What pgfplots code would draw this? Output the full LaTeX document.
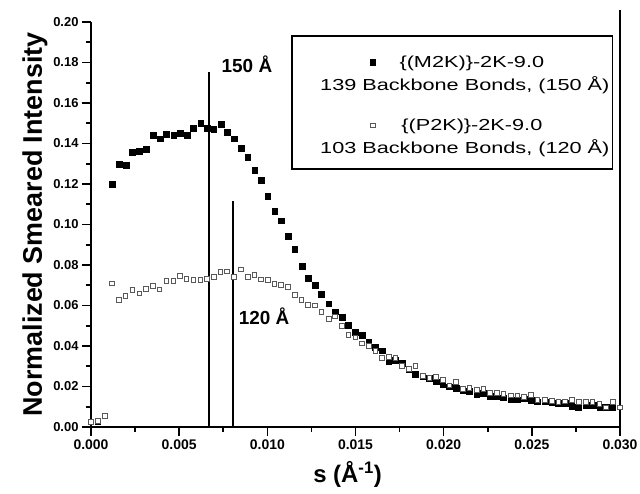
\documentclass[border=0pt]{standalone}
\usepackage{fontspec}
\setmainfont{Liberation Sans}
\newfontfamily\legfont[FakeStretch=1.36]{Liberation Sans}
\usepackage{pgfplots}
\usepackage{pgfplotstable}
\pgfplotsset{compat=1.18}
\pgfplotsset{mylegimg/.style={legend image code/.code={\path (0,0); \draw[##1, overlay] plot coordinates {(80bp,5.5bp)};}}}
\newcommand\legline[4]{\rule[-#2]{0pt}{\dimexpr#1+#2\relax}\hspace*{27bp}\makebox[289bp][c]{\hspace*{#3}#4}\hspace*{3bp}}

\pgfplotstableread{
s v
0.00038 0.0030
0.00118 0.1199
0.00161 0.1297
0.00197 0.1292
0.00235 0.1356
0.00275 0.1361
0.00312 0.1371
0.00354 0.1440
0.00390 0.1424
0.00428 0.1448
0.00468 0.1443
0.00506 0.1450
0.00544 0.1440
0.00581 0.1476
0.00621 0.1500
0.00657 0.1475
0.00695 0.1470
0.00737 0.1495
0.00774 0.1457
0.00812 0.1424
0.00850 0.1376
0.00888 0.1332
0.00928 0.1268
0.00964 0.1218
0.01002 0.1139
0.01041 0.1068
0.01079 0.1019
0.01117 0.0943
0.01155 0.0877
0.01195 0.0795
0.01231 0.0737
0.01269 0.0700
0.01307 0.0657
0.01348 0.0609
0.01384 0.0570
0.01422 0.0542
0.01460 0.0505
0.01498 0.0470
0.01536 0.0453
0.01574 0.0420
0.01612 0.0395
0.01650 0.0377
0.01688 0.0324
0.01726 0.0330
0.01763 0.0314
0.01801 0.0285
0.01839 0.0263
0.01880 0.0250
0.01918 0.0240
0.01956 0.0224
0.01994 0.0212
0.02032 0.0200
0.02070 0.0191
0.02108 0.0180
0.02146 0.0178
0.02187 0.0160
0.02225 0.0169
0.02263 0.0153
0.02300 0.0150
0.02339 0.0145
0.02380 0.0138
0.02418 0.0135
0.02456 0.0140
0.02494 0.0132
0.02530 0.0125
0.02574 0.0125
0.02612 0.0124
0.02650 0.0120
0.02688 0.0118
0.02725 0.0104
0.02763 0.0100
0.02806 0.0109
0.02846 0.0107
0.02884 0.0100
0.02920 0.0097
0.02958 0.0100
}\mtk

\pgfplotstableread{
s v
0.00000 0.0026
0.00038 0.0030
0.00078 0.0054
0.00118 0.0710
0.00159 0.0629
0.00195 0.0647
0.00235 0.0677
0.00273 0.0660
0.00311 0.0683
0.00350 0.0696
0.00388 0.0680
0.00426 0.0721
0.00466 0.0721
0.00502 0.0746
0.00540 0.0732
0.00581 0.0726
0.00619 0.0726
0.00657 0.0731
0.00695 0.0742
0.00733 0.0765
0.00771 0.0769
0.00809 0.0742
0.00850 0.0779
0.00888 0.0742
0.00926 0.0752
0.00964 0.0729
0.01002 0.0726
0.01040 0.0706
0.01077 0.0703
0.01117 0.0693
0.01155 0.0653
0.01193 0.0629
0.01229 0.0604
0.01269 0.0601
0.01307 0.0569
0.01348 0.0535
0.01384 0.0547
0.01422 0.0499
0.01460 0.0456
0.01498 0.0443
0.01536 0.0413
0.01574 0.0400
0.01612 0.0377
0.01650 0.0341
0.01688 0.0347
0.01726 0.0341
0.01763 0.0301
0.01801 0.0288
0.01839 0.0301
0.01880 0.0252
0.01918 0.0244
0.01956 0.0249
0.01994 0.0232
0.02032 0.0206
0.02070 0.0224
0.02108 0.0189
0.02146 0.0194
0.02187 0.0183
0.02225 0.0188
0.02263 0.0169
0.02300 0.0169
0.02339 0.0163
0.02380 0.0156
0.02418 0.0156
0.02456 0.0150
0.02494 0.0160
0.02530 0.0133
0.02574 0.0133
0.02612 0.0130
0.02650 0.0123
0.02688 0.0127
0.02725 0.0133
0.02767 0.0123
0.02806 0.0123
0.02844 0.0123
0.02882 0.0114
0.02920 0.0097
0.02958 0.0123
0.02998 0.0097
}\ptk

\begin{document}
\begin{tikzpicture}
\begin{axis}[
  scale only axis,
  width=529bp, height=405bp,
  xmin=0, xmax=0.030, ymin=0, ymax=0.20,
  clip=false,
  axis x line*=bottom, axis y line*=left,
  axis line style={line width=1.6bp, black},
  tick style={line width=1.6bp, black},
  tick align=outside,
  major tick length=9bp, minor tick length=5bp,
  xtick={0,0.005,0.010,0.015,0.020,0.025,0.030},
  ytick={0,0.02,0.04,0.06,0.08,0.10,0.12,0.14,0.16,0.18,0.20},
  minor x tick num=1, minor y tick num=1,
  scaled x ticks=false, scaled y ticks=false,
  /pgf/number format/assume math mode=true,
  xticklabel style={font=\bfseries\fontsize{14}{16}\selectfont,
    /pgf/number format/.cd, fixed, fixed zerofill, precision=3},
  yticklabel style={font=\bfseries\fontsize{13}{15}\selectfont,
    /pgf/number format/.cd, fixed, fixed zerofill, precision=2},
  xlabel={s (Å\textsuperscript{-1})},
  ylabel={Normalized Smeared Intensity},
  xlabel style={font=\bfseries\fontsize{24}{26}\selectfont, at={(axis description cs:0.485,-0.118)}, anchor=center},
  ylabel style={font=\bfseries\fontsize{27}{29}\selectfont, at={(axis description cs:-0.106,0.5)}, anchor=center},
  legend style={at={(axis description cs:0.987,0.968)}, anchor=north east,
    draw=black, line width=1.6bp, inner xsep=0bp, inner ysep=14bp,
    row sep=0bp, column sep=0bp, nodes={inner sep=0bp},
    cells={anchor=base west},
    font=\legfont\fontsize{16}{26}\selectfont},
]
\addplot[only marks, mark=square*, mark size=2.9bp, mark options={fill=black, draw=black, line width=0.2bp}, mylegimg]
  table[x=s, y=v] {\mtk};
\addlegendentry{\legline{18bp}{5bp}{14bp}{\{(M2K)\}-2K-9.0}}
\addlegendimage{empty legend}
\addlegendentry{\legline{21bp}{5bp}{0bp}{139 Backbone Bonds, (150 Å)}}
\addplot[only marks, mark=square*, mark size=2.3bp, mark options={fill=white, draw=black!65, line width=0.6bp}, mylegimg]
  table[x=s, y=v] {\ptk};
\addlegendentry{\legline{39bp}{5bp}{14bp}{\{(P2K)\}-2K-9.0}}
\addlegendimage{empty legend}
\addlegendentry{\legline{21bp}{17.4bp}{0bp}{103 Backbone Bonds, (120 Å)}}
\addplot[forget plot, line width=2.4bp, black] coordinates {(0.0067,0) (0.0067,0.1754)};
\addplot[forget plot, line width=2bp, black] coordinates {(0.00807,0) (0.00807,0.1117)};
\node[anchor=west, font=\bfseries\fontsize{19}{21}\selectfont, inner sep=0bp] at (axis cs:0.0074,0.179) {150 Å};
\node[anchor=west, font=\bfseries\fontsize{19}{21}\selectfont, inner sep=0bp] at (axis cs:0.00837,0.0548) {120 Å};
\draw[line width=1.6bp] (rel axis cs:1,0) -- (rel axis cs:1,1.03);
\end{axis}
\pgfresetboundingbox
\path[use as bounding box] (current axis.south west) ++(-91bp,-67bp) rectangle ++(640bp,494bp);
\end{tikzpicture}
\end{document}
